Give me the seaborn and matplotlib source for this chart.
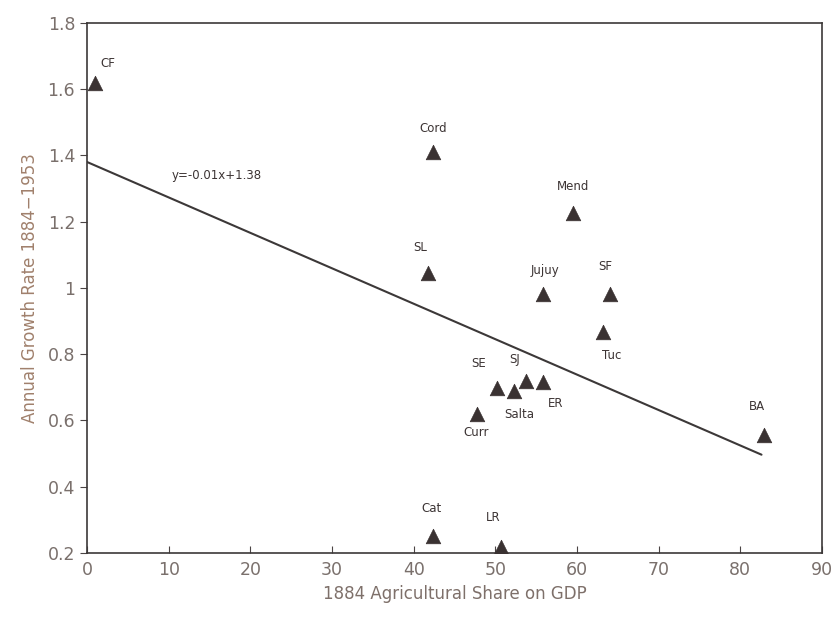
import numpy as np
import pandas as pd
import seaborn as sns
import matplotlib.pyplot as plt

# Provinces: 1884 agricultural share vs growth rate
provinces = ['CF', 'Cord', 'Mend', 'SL', 'Jujuy', 'SF', 'Tuc', 'BA',
             'SE', 'Salta', 'SJ', 'ER', 'Curr', 'Cat', 'LR']
agri_share = [1.0, 42.4, 59.5, 41.7, 55.9, 64.1, 63.2, 82.9,
              50.2, 52.3, 53.7, 55.9, 47.7, 42.4, 50.7]
growth = [1.62, 1.41, 1.225, 1.045, 0.98, 0.98, 0.867, 0.555,
          0.697, 0.689, 0.718, 0.715, 0.619, 0.25, 0.217]

# fitted line as printed on the chart
slope = -0.0107
intercept = 1.38
line_x = [0, 82.6]

df = pd.DataFrame({'prov': provinces, 'x': agri_share, 'y': growth})
df_line = pd.DataFrame({'x': line_x})
df_line['y'] = intercept + slope * df_line['x']

# label offsets in points (dx, dy, ha)
offsets = {
    'CF': (4, 14, 'left'), 'Cord': (0, 17, 'center'), 'Mend': (0, 19, 'center'),
    'SL': (-5, 18, 'center'), 'Jujuy': (1, 17, 'center'), 'SF': (-4, 20, 'center'),
    'Tuc': (6, -17, 'center'), 'BA': (-5, 21, 'center'), 'SE': (-13, 18, 'center'),
    'Salta': (4, -17, 'center'), 'SJ': (-8, 16, 'center'), 'ER': (9, -15, 'center'),
    'Curr': (0, -13, 'center'), 'Cat': (-1, 20, 'center'), 'LR': (-6, 21, 'center'),
}

sns.set_style('white')
plt.rcParams['font.family'] = ['DejaVu Sans']

fig = plt.figure(figsize=(8.37, 6.19), dpi=100)
ax = fig.add_axes([0.104, 0.107, 0.878, 0.856])

sns.lineplot(data=df_line, x='x', y='y', ax=ax, color='#3c3838', linewidth=1.5)
sns.scatterplot(data=df, x='x', y='y', ax=ax, marker='^', s=110,
                color='#3a3232', edgecolor='#3a3232', linewidth=0.5, zorder=3)

for _, r in df.iterrows():
    dx, dy, ha = offsets[r['prov']]
    ax.annotate(r['prov'], (r['x'], r['y']), xytext=(dx, dy),
                textcoords='offset points', ha=ha, va='center',
                fontsize=8.5, color='#3c3434')

ax.text(10.4, 1.34, 'y=-0.01x+1.38', fontsize=8.5, color='#3c3434',
        ha='left', va='center')

ax.set_xlim(0, 90)
ax.set_ylim(0.2, 1.8)
ax.set_xticks(np.arange(0, 91, 10))
ax.set_yticks([0.2, 0.4, 0.6, 0.8, 1.0, 1.2, 1.4, 1.6, 1.8])
ax.set_yticklabels(['0.2', '0.4', '0.6', '0.8', '1', '1.2', '1.4', '1.6', '1.8'])

ax.set_xlabel('1884 Agricultural Share on GDP', fontsize=12, color='#7e706a', labelpad=4)
ax.set_ylabel('Annual Growth Rate 1884\u22121953', fontsize=12, color='#a0806c', labelpad=6)

ax.tick_params(axis='x', direction='in', length=5, labelsize=12.5,
               labelcolor='#7a706c', color='#4a4444', pad=6, bottom=True)
ax.tick_params(axis='y', direction='out', length=5, labelsize=12.5,
               labelcolor='#7a706c', color='#4a4444', left=True)

for s in ax.spines.values():
    s.set_color('#3c3838')
    s.set_linewidth(1.2)

fig.savefig('out.png', dpi=100)
